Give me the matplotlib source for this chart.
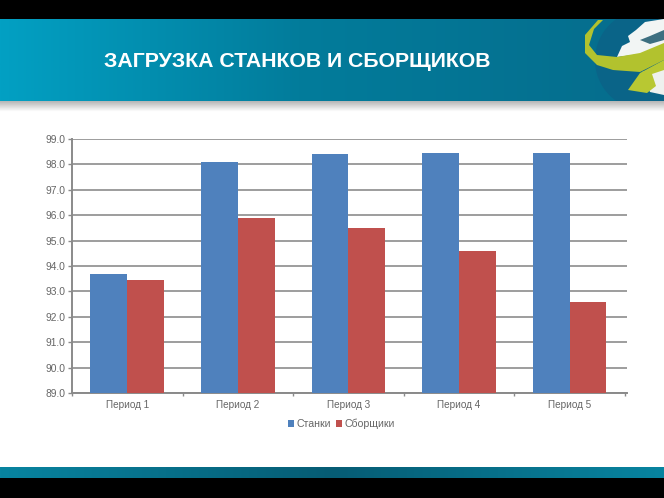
import matplotlib
matplotlib.use('Agg')
import matplotlib.pyplot as plt
import numpy as np
from matplotlib.patches import Circle, Polygon, Rectangle

plt.rcParams['font.family'] = ['Liberation Sans', 'DejaVu Sans']

W, H = 664, 498

categories = ['Период 1', 'Период 2', 'Период 3', 'Период 4', 'Период 5']
stanki = [93.7, 98.1, 98.4, 98.45, 98.45]
sborshchiki = [93.45, 95.9, 95.5, 94.6, 92.6]
y_ticks = [89, 90, 91, 92, 93, 94, 95, 96, 97, 98, 99]
title = 'ЗАГРУЗКА СТАНКОВ И СБОРЩИКОВ'

fig = plt.figure(figsize=(W / 100, H / 100), dpi=100, facecolor='white')

# background layer in pixel coords (slide decoration)
bg = fig.add_axes([0, 0, 1, 1], zorder=0)
bg.axis('off')

bg.add_patch(Rectangle((0, 0), W, 19, fc='black', ec='none'))
bg.add_patch(Rectangle((0, 478), W, 20, fc='black', ec='none'))

left = np.array([2, 160, 195]) / 255
mid = np.array([2, 124, 155]) / 255
right = np.array([6, 108, 140]) / 255
t = np.linspace(0, 1, 300)
grad = np.array([left + (mid - left) * min(v / 0.45, 1) + (right - mid) * max((v - 0.45) / 0.55, 0) for v in t])
bg.imshow(grad[np.newaxis, :, :], extent=(0, W, 101, 19), aspect='auto', zorder=1)

# bottom strip is lighter at both ends, dark in the middle
end = np.array([8, 132, 160]) / 255
centre = np.array([6, 92, 116]) / 255
grad2 = np.array([centre + (end - centre) * abs(v - 0.5) * 2 for v in t])
bg.imshow(grad2[np.newaxis, :, :], extent=(0, W, 478, 467), aspect='auto', zorder=1)

shadow = np.linspace(0.72, 1, 12)[:, np.newaxis]
bg.imshow(shadow, extent=(0, W, 112, 101), aspect='auto', cmap='gray', vmin=0, vmax=1, zorder=1)
bg.set_xlim(0, W)
bg.set_ylim(H, 0)

# globe and ribbon, clipped to the banner
clip = Rectangle((0, 19), W, 82, transform=bg.transData)
parts = [
    Circle((645, 60), 50, fc='#0a6488', ec='none', zorder=2),
    Polygon([[617, 57], [622, 46], [630, 42], [628, 36], [636, 30], [645, 22], [664, 19], [664, 46], [640, 54]],
            fc='#f2f5f4', ec='none', zorder=3),
    Polygon([[640, 40], [650, 36], [664, 30], [664, 40], [650, 44]], fc='#3d6f80', ec='none', zorder=3),
    Polygon([[642, 72], [664, 66], [664, 95], [650, 92]], fc='#eef1ee', ec='none', zorder=3),
    Polygon([[598, 20], [603, 20], [594, 29], [589, 45], [597, 55], [617, 57], [640, 53], [664, 43], [664, 60],
             [640, 72], [613, 70], [597, 65], [585, 53], [585, 35]], fc='#b2c22e', ec='none', zorder=4),
    Polygon([[640, 73], [664, 60], [664, 70], [652, 74], [656, 86], [647, 93], [628, 90]],
            fc='#b8c832', ec='none', zorder=4),
]
for p in parts:
    bg.add_patch(p)
    p.set_clip_path(clip)

bg.text(104, 61, title, color='white', fontsize=15.3, fontweight='bold', ha='left', va='center', zorder=5)

# the chart itself
ax = fig.add_axes([72 / W, 1 - 393 / H, 555 / W, 254 / H], zorder=1)
ax.patch.set_alpha(0)
x = np.arange(len(categories))
bar_w = 1 / 3
ax.bar(x - bar_w / 2, stanki, bar_w, color='#4f81bd', zorder=3, label='Станки')
ax.bar(x + bar_w / 2, sborshchiki, bar_w, color='#c0504d', zorder=3, label='Сборщики')

ax.set_xlim(-0.5, 4.52)
ax.set_ylim(89, 99)
ax.set_yticks(y_ticks)
ax.set_yticklabels(['%.1f' % v for v in y_ticks])
ax.set_xticks(x)
ax.set_xticklabels(categories)
ax.set_xticks(np.arange(-0.5, 5), minor=True)
ax.grid(axis='y', color='#8c8c8c', lw=1.2, zorder=1)
ax.tick_params(axis='y', colors='#8a8a8a', labelcolor='#666666', labelsize=7.4, length=3, width=1, pad=2)
ax.tick_params(axis='x', which='major', length=0, labelcolor='#666666', labelsize=7.2, pad=5)
ax.tick_params(axis='x', which='minor', length=2, color='#8a8a8a', width=1)
for side in ['top', 'right']:
    ax.spines[side].set_visible(False)
for side in ['left', 'bottom']:
    ax.spines[side].set_color('#8a8a8a')
    ax.spines[side].set_linewidth(1.4)

ax.legend(loc='upper left', bbox_to_anchor=((288 - 72) / 555, -0.102), ncol=2, frameon=False, fontsize=7.6,
          handlelength=0.55, handleheight=0.7, handletextpad=0.25, columnspacing=0.5, borderpad=0, borderaxespad=0,
          labelcolor='#666666')

fig.savefig('out.png', dpi=100)
